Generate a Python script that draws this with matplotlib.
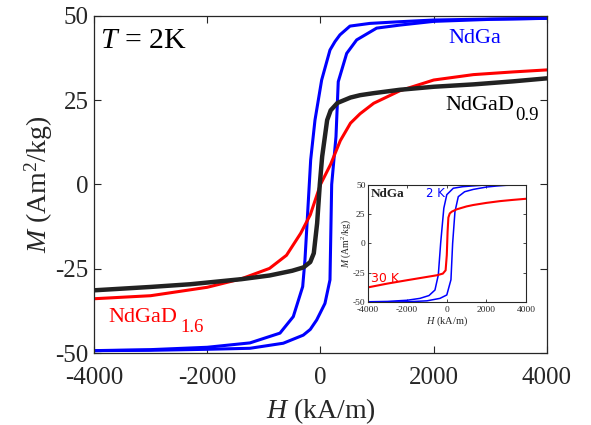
import matplotlib
matplotlib.use("Agg")
import matplotlib.pyplot as plt

plt.rcParams['font.family'] = ['Liberation Serif', 'DejaVu Serif']
plt.rcParams['mathtext.fontset'] = 'custom'
plt.rcParams['mathtext.rm'] = 'Liberation Serif'
plt.rcParams['mathtext.it'] = 'Liberation Serif:italic'
plt.rcParams['axes.unicode_minus'] = False

# ---------------- data (main panel, T = 2 K) ----------------
# NdGa: descending branch (from +H to -H)
ndga_desc_H = [4000, 3000, 2000, 1404, 874, 521, 344, 256, 168, 21, -97, -173, -203,
               -274, -314, -480, -715, -1245, -2000, -3000, -4000]
ndga_desc_M = [49.3, 49.1, 48.8, 48.3, 47.8, 47.0, 44.4, 42.4, 39.9, 31.0, 19.1, 7.3, -1.6,
               -22.4, -30.3, -39.2, -44.1, -47.0, -48.3, -49.0, -49.3]
# NdGa: ascending branch (from -H to +H)
ndga_asc_H = [-4000, -3000, -2000, -1245, -657, -304, -180, -67, 79, 168, 198, 274, 314,
              463, 639, 992, 1404, 2000, 3000, 4000]
ndga_asc_M = [-49.3, -49.2, -48.9, -48.6, -47.1, -44.7, -43.0, -40.2, -35.3, -28.3, 0.0, 14.2, 30.5,
              38.9, 42.9, 46.4, 47.3, 48.4, 49.0, 49.3]

# NdGaD0.9
d09_H = [-4000, -3000, -2300, -1400, -900, -500, -300, -180, -118, -59, -12, 30, 118,
         180, 300, 530, 700, 940, 1400, 2000, 2700, 3400, 4000]
d09_M = [-31.4, -30.4, -29.6, -28.1, -27.0, -25.6, -24.6, -23.0, -20.4, -11.5, 0.0, 8.3, 19.1,
         22.0, 24.2, 25.8, 26.5, 27.1, 28.1, 29.0, 29.7, 30.6, 31.5]

# NdGaD1.6
d16_H = [-4000, -3000, -2000, -1400, -900, -600, -350, -180, 0, 180, 350, 530, 700,
         940, 1400, 2000, 2700, 3400, 4000]
d16_M = [-33.9, -33.0, -30.5, -28.0, -24.9, -21.0, -14.5, -9.0, 0.0, 6.0, 13.0, 18.2, 21.0,
         24.1, 27.8, 31.0, 32.6, 33.4, 34.0]

# ---------------- data (inset, NdGa) ----------------
in2_desc_H = [4000, 3000, 2000, 1338, 800, 328, 0, -150, -311, -429, -598, -900, -1355,
              -2000, -3000, -4000]
in2_desc_M = [50.0, 50.0, 49.8, 49.0, 48.3, 47.0, 41.5, 30.0, 0.0, -27.0, -39.8, -44.5, -46.9,
              -48.5, -49.5, -49.8]
in2_asc_H = [-4000, -3000, -2000, -1000, -345, 0, 210, 295, 412, 580, 900, 1338,
             2000, 2517, 3000, 4000]
in2_asc_M = [-50.0, -50.0, -49.8, -49.0, -46.9, -44.0, -31.0, 0.0, 27.0, 39.8, 44.0, 46.0,
             48.0, 48.9, 49.5, 49.8]

in30_H = [-4000, -3000, -2000, -1000, -500, -200, -60, 0, 40, 80, 150, 250, 500,
          1000, 1338, 2000, 2685, 3300, 4000]
in30_M = [-37.6, -34.3, -31.4, -28.6, -27.2, -25.8, -23.0, -10.0, 10.0, 22.0, 25.5, 27.0, 29.0,
          31.5, 32.7, 34.5, 36.0, 37.0, 38.0]

x_ticks = [-4000, -2000, 0, 2000, 4000]
y_ticks = [-50, -25, 0, 25, 50]
x_ticklabels = ['-4000', '-2000', '0', '2000', '4000']
y_ticklabels = ['-50', '-25', '0', '25', '50']

BLUE = '#0000ff'
RED = '#ff0000'
BLACK = '#222222'
AXC = '#262626'

fig = plt.figure(figsize=(5.91, 4.25), dpi=100)
ax = fig.add_axes([0.159, 0.1694, 0.7665, 0.793])

ax.plot(ndga_desc_H, ndga_desc_M, color=BLUE, lw=2.2, solid_joinstyle='round')
ax.plot(ndga_asc_H, ndga_asc_M, color=BLUE, lw=2.2, solid_joinstyle='round')
ax.plot(d16_H, d16_M, color=RED, lw=2.2, solid_joinstyle='round')
ax.plot(d09_H, d09_M, color=BLACK, lw=3.2, solid_joinstyle='round')

ax.set_xlim(-4000, 4000)
ax.set_ylim(-50, 50)
ax.set_xticks(x_ticks)
ax.set_xticklabels(x_ticklabels)
ax.set_yticks(y_ticks)
ax.set_yticklabels(y_ticklabels)
ax.tick_params(direction='in', length=5, width=0.8, color=AXC, labelcolor=AXC,
               labelsize=18, top=True, right=True)
ax.tick_params(axis='x', pad=10)
ax.tick_params(axis='y', pad=4)
for s in ax.spines.values():
    s.set_color(AXC)
    s.set_linewidth(0.9)

ax.set_xlabel(r'$H$ (kA/m)', fontsize=20, color=AXC, labelpad=5)
ax.set_ylabel(r'$M$ (Am$^2$/kg)', fontsize=20, color=AXC, labelpad=0)

ax.text(-3896, 40.4, r'$T$ = 2K', fontsize=21.5, color='black', va='baseline')
ax.text(2252, 41.9, 'NdGa', fontsize=16, color=BLUE, va='baseline')
ax.text(2199, 22.1, 'NdGaD', fontsize=16, color='black', va='baseline')
ax.text(3435, 19.1, '0.9', fontsize=13.5, color='black', va='baseline')
ax.text(-3753, -40.7, 'NdGaD', fontsize=16, color=RED, va='baseline')
ax.text(-2469, -43.7, '1.6', fontsize=13.5, color=RED, va='baseline')

# ---------------- inset ----------------
ia = fig.add_axes([0.622, 0.2894, 0.268, 0.276])
ia.plot(in2_desc_H, in2_desc_M, color=BLUE, lw=1.1)
ia.plot(in2_asc_H, in2_asc_M, color=BLUE, lw=1.1)
ia.plot(in30_H, in30_M, color=RED, lw=1.5)
ia.set_xlim(-4000, 4000)
ia.set_ylim(-50, 50)
ia.set_xticks(x_ticks)
ia.set_xticklabels(x_ticklabels)
ia.set_yticks(y_ticks)
ia.set_yticklabels(y_ticklabels)
ia.tick_params(direction='in', length=2.5, width=0.6, color=AXC, labelcolor=AXC,
               labelsize=6.8, top=True, right=True)
ia.tick_params(axis='x', pad=2.8)
ia.tick_params(axis='y', pad=1.5)
for s in ia.spines.values():
    s.set_color(AXC)
    s.set_linewidth(0.8)
ia.set_xlabel(r'$H$ (kA/m)', fontsize=7.5, color=AXC, labelpad=0.5)
ia.set_ylabel(r'$M$ (Am$^2$/kg)', fontsize=7, color=AXC, labelpad=0)
ia.text(-3843, 39.7, 'NdGa', fontsize=9.5, fontweight='bold', color='#222222', va='baseline')
ia.text(-1051, 39.7, '2 K', fontsize=8.5, color=BLUE, va='baseline', family='DejaVu Sans')
ia.text(-3843, -32.7, '30 K', fontsize=9, color=RED, va='baseline', family='DejaVu Sans')

fig.savefig('out.png', dpi=100)
